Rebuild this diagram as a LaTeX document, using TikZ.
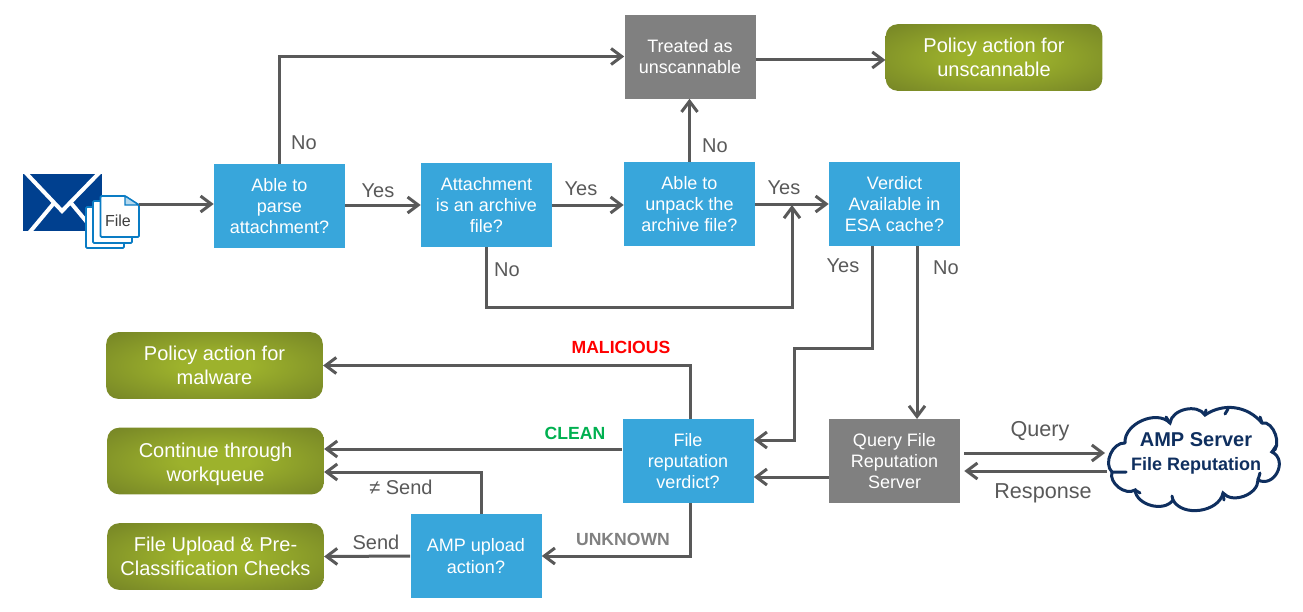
\documentclass[tikz,border=0pt]{standalone}
\usepackage{fontspec}
\setmainfont{Liberation Sans}
\usetikzlibrary{arrows.meta}

\definecolor{flowblue}{HTML}{38A6DB}
\definecolor{flowgray}{HTML}{808080}
\definecolor{linegray}{HTML}{595959}
\definecolor{mailblue}{HTML}{00408F}
\definecolor{pageblue}{HTML}{0A7CC4}
\definecolor{cloudblue}{HTML}{0F2F5F}
\definecolor{greenin}{HTML}{9DB22C}
\definecolor{greenout}{HTML}{758426}
\definecolor{cleangreen}{HTML}{00B050}
\pgfdeclareradialshading{policyglow}{\pgfpointorigin}{color(0bp)=(greenin); color(8bp)=(greenin); color(36bp)=(greenout); color(50bp)=(greenout)}

\begin{document}
\begin{tikzpicture}
 [x=0.75pt,y=-0.75pt,
% Box styles
    test/.style={rectangle,fill=flowblue,text=white,minimum width=98.25pt,minimum height=63pt,
        inner sep=0pt,align=center,font=\fontsize{13.5}{16}\selectfont},
    server/.style={test,fill=flowgray},
    policy/.style={rectangle,rounded corners=9pt,shading=policyglow,text=white,
        minimum width=162.5pt,minimum height=50pt,inner sep=0pt,align=center,
        font=\fontsize{15}{18}\selectfont},
% Label styles
    answer/.style={text=linegray,inner sep=0pt,font=\fontsize{15}{18}\selectfont},
    verdict/.style={inner sep=0pt,font=\fontsize{13.2}{16}\selectfont\bfseries},
% Connector style
    flow/.style={draw=linegray,line width=2.25pt,-{Straight Barb[length=8pt,width=12pt,line width=2.25pt]}},
    page/.style={draw=pageblue,line width=1.3pt,fill=white,rounded corners=0.8pt},
    puff/.style={draw=cloudblue,line width=2.25pt,line cap=round}
    ]
\useasboundingbox (0,0) rectangle (1303,611);
%% Mail and file icon
 \fill [mailblue] (23,174) rectangle (102,231);
 \draw [white,line width=3pt] (25,172) -- (62,211) -- (100,172);
 \draw [white,line width=3pt] (29,233) -- (54,203) (96,233) -- (71,203);
 \draw [page] (86,207) rectangle (124,248);
 \draw [page] (93,201) rectangle (132,243);
 \draw [page] (100.5,196) -- (125,196) -- (139,205) -- (139,237) -- (100.5,237) -- cycle;
 \draw [draw=pageblue,line width=1pt,fill=pageblue!30] (125,196) -- (125,205) -- (139,205) -- cycle;
 \node (file) at (118,221) [text=linegray!70!black,inner sep=0pt,font=\fontsize{12}{14}\selectfont] {File};
 \coordinate (filetab) at (139,204);
%% Cloud outline
 \draw [puff,bend left=70] (1125,443) to (1170,423) to (1205,415) to[bend left=42] (1262,423)
    to[bend left=85] (1272,452) to[bend left=90,looseness=1.5] (1258,480)
    to (1223,493) to (1173,500) to (1135,490) to (1112,472) to (1125,443);
 \draw [puff] (1170,423) -- (1166,417) (1205,415) -- (1206,410) (1225,414) -- (1228,409) (1262,423) -- (1260,417)
    (1272,452) -- (1276,446) (1258,480) -- (1260,473) (1223,493) -- (1224,500) (1173,500) -- (1172,496)
    (1135,490) -- (1140,493) (1112,472) -- (1126,472);
%% Draw boxes
 \node (parse) at (279.5,206) [test] {Able to\\parse\\attachment?};
 \node (archive) at (486.5,205) [test] {Attachment\\is an archive\\file?};
 \node (unpack) at (689.5,204) [test] {Able to\\unpack the\\archive file?};
 \node (cache) at (894.5,204) [test] {Verdict\\Available in\\ESA cache?};
 \node (treated) at (690,56.5) [server] {Treated as\\unscannable};
 \node (query) at (894.5,461) [server] {Query File\\Reputation\\Server};
 \node (reputation) at (688,461) [test] {File\\reputation\\verdict?};
 \node (upload) at (476,556) [test] {AMP upload\\action?};
 \node (unscannable) at (994,57.5) [policy] {Policy action for\\unscannable};
 \node (malware) at (214.5,365.5) [policy] {Policy action for\\malware};
 \node (workqueue) at (215.5,461) [policy] {\rule{0pt}{15.5pt}Continue through\\workqueue};
 \node (checks) at (215.5,556.5) [policy] {File Upload \& Pre-\\Classification Checks};
 \node (amp) at (1196,453.5) [text=cloudblue,inner sep=0pt,align=center,font=\bfseries\fontsize{15}{17.5}\selectfont]
    {AMP Server\\{\fontsize{13.5}{16}\selectfont File Reputation}};
%% Bends of the connectors
 \coordinate (merge) at (792,205);
 \coordinate (bypass) at (792,307);
 \coordinate (cachebend) at (794,348);
 \coordinate (cloudin) at (1105,453);
 \coordinate (cloudout) at (1107,471);
%% Draw connectors
 \draw [flow] (filetab) -- (filetab -| parse.west);
 \draw [flow] (parse.north) |- (treated.west);
 \draw [flow] (parse.east |- archive.west) -- (archive.west);
 \draw [flow] (archive.east |- 0,205) -- (unpack.west |- 0,205);
 \draw [flow] (unpack.east) -- (cache.west);
 \draw [flow] (archive.south) |- (bypass) -- (merge);
 \draw [flow] (unpack.north) -- (unpack.north |- treated.south);
 \draw [flow] ([yshift=-2.6pt]treated.east) -- ([yshift=-2.6pt]treated.east -| unscannable.west);
 \draw [flow] (872,246) |- (cachebend) |- (reputation.east |- 0,440);
 \draw [flow] (917,246) -- (917,419);
 \draw [flow] (query.west |- 0,477) -- (reputation.east |- 0,477);
 \draw [flow] ([xshift=3pt]query.east |- cloudin) -- (cloudin);
 \draw [flow] (cloudout) -- ([xshift=3pt]query.east |- cloudout);
 \draw [flow] (690,419) |- (malware.east);
 \draw [flow] (reputation.west |- 0,449) -- (workqueue.east |- 0,449);
 \draw [flow] (690,503) |- (upload.east);
 \draw [flow] (481,514) |- (workqueue.east |- 0,472);
 \draw [flow] (upload.west) -- (checks.east);
%% Draw labels
 \node (noparse) at (304,143) [answer] {No};
 \node (yesparse) at (378,191) [answer] {Yes};
 \node (yesarchive) at (581,189) [answer] {Yes};
 \node (nounpack) at (715,146) [answer] {No};
 \node (yesunpack) at (784,188) [answer] {Yes};
 \node (noarchive) at (507,270) [answer] {No};
 \node (yescache) at (843,266) [answer] {Yes};
 \node (nocache) at (946,268) [answer] {No};
 \node (lblsend) at (401,487) [answer] {≠ Send};
 \node (send) at (376,542) [answer] {Send};
 \node (lblquery) at (1040,431) [answer,font=\fontsize{16.2}{18}\selectfont] {Query};
 \node (response) at (1043,493) [answer,font=\fontsize{16.2}{18}\selectfont] {Response};
 \node (malicious) at (621,347) [verdict,text=red] {MALICIOUS};
 \node (clean) at (575,433) [verdict,text=cleangreen] {CLEAN};
 \node (unknown) at (623,539) [verdict,text=flowgray] {UNKNOWN};
\end{tikzpicture}
\end{document}
